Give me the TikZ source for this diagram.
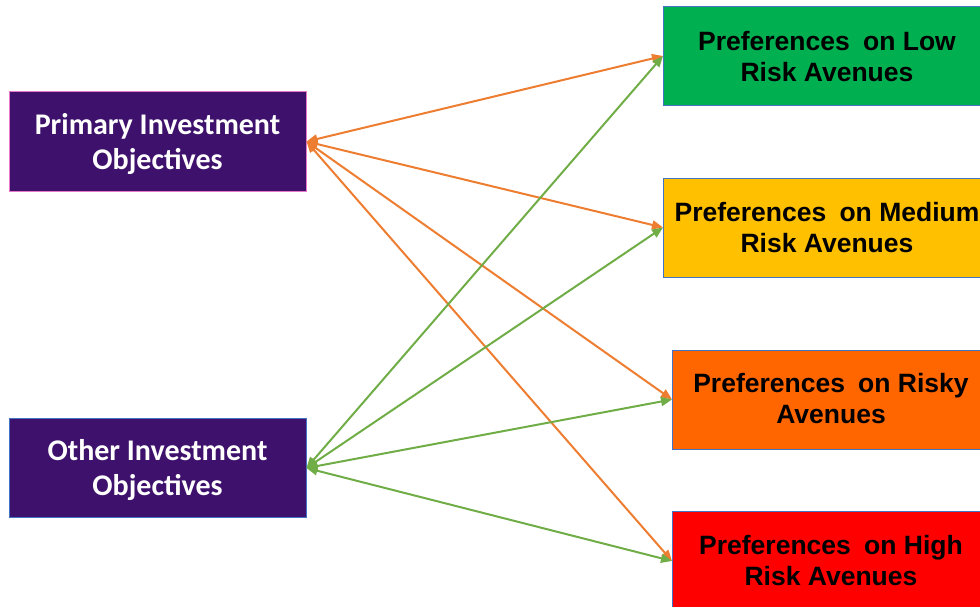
\documentclass[tikz,border=0pt]{standalone}
\usepackage{fontspec}
\setmainfont{Liberation Sans}
\newfontfamily\calib{Carlito}
\usetikzlibrary{arrows.meta}
\definecolor{purp}{RGB}{62,18,108}
\definecolor{pinkb}{RGB}{230,120,200}
\definecolor{blueb}{RGB}{68,114,196}
\definecolor{lowc}{RGB}{0,176,80}
\definecolor{medc}{RGB}{255,192,0}
\definecolor{riskc}{RGB}{255,102,0}
\definecolor{highc}{RGB}{255,0,0}
\definecolor{orar}{RGB}{237,125,49}
\definecolor{grar}{RGB}{112,173,71}
\tikzset{
  leftbox/.style={draw, line width=1pt, fill=purp, minimum width=297pt, minimum height=99pt, inner sep=0pt},
  ltext/.style={text=white, align=center, font=\calib\bfseries\fontsize{30}{35}\selectfont},
  rightbox/.style={draw=blueb, line width=0.8pt, minimum height=99pt, inner sep=0pt},
  rtext/.style={font=\bfseries\fontsize{26.5}{31}\selectfont, align=center},
  conn/.style={line width=2pt, {Triangle[length=11pt,width=9pt]}-{Triangle[length=11pt,width=9pt]}}
}
\begin{document}
\begin{tikzpicture}[x=1pt,y=-1pt]
\useasboundingbox (0,0) rectangle (980,607);
\node[leftbox, draw=pinkb] (prim) at (157.5,141.5) {};
\node[leftbox, draw=blueb] (oth) at (157.5,468) {};
\node[ltext] (primt) at (157.5,144) {Primary Investment\\Objectives};
\node[ltext] (otht) at (157.5,470) {Other Investment\\Objectives};
\begin{scope}
\clip (0,0) rectangle (980,607);
\node[rightbox, fill=lowc, minimum width=330pt, anchor=west] (low) at (663,56) {};
\node[rightbox, fill=medc, minimum width=330pt, anchor=west] (med) at (663,227.5) {};
\node[rightbox, fill=riskc, minimum width=320pt, anchor=west] (risky) at (672,399.5) {};
\node[rightbox, fill=highc, minimum width=320pt, anchor=west, minimum height=100pt] (high) at (672,561) {};
\end{scope}
\node[rtext] (lowt) at (827,57) {Preferences\hspace{0.5em}on Low\\Risk Avenues};
\node[rtext] (medt) at (827,228) {Preferences\hspace{0.5em}on Medium\\Risk Avenues};
\node[rtext] (riskyt) at (831,399) {Preferences\hspace{0.5em}on Risky\\Avenues};
\node[rtext] (hight) at (831,561) {Preferences\hspace{0.5em}on High\\Risk Avenues};
\coordinate (pa) at (prim.east);
\coordinate (oa) at (oth.east);
\draw[conn, orar] (pa) -- (low.west);
\draw[conn, orar] (pa) -- (med.west);
\draw[conn, orar] (pa) -- (risky.west);
\draw[conn, orar] (pa) -- (high.west);
\draw[conn, grar] (oa) -- (low.west);
\draw[conn, grar] (oa) -- (med.west);
\draw[conn, grar] (oa) -- (risky.west);
\draw[conn, grar] (oa) -- (high.west);
\end{tikzpicture}
\end{document}
